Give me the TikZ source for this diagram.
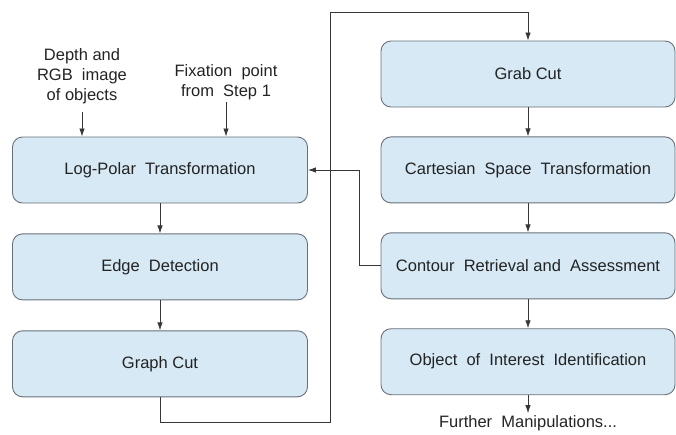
\documentclass[tikz,border=0pt]{standalone}
\usepackage{fontspec}
\setmainfont{Liberation Sans}
\usetikzlibrary{positioning,arrows.meta}
\definecolor{boxfill}{RGB}{214,233,244}
\definecolor{boxline}{RGB}{105,112,122}
\definecolor{wire}{RGB}{55,55,55}
\definecolor{ink}{RGB}{35,35,35}
\tikzset{
  stepbox/.style={draw=boxline, line width=0.9pt, fill=boxfill, rounded corners=10pt,
    minimum width=295pt, minimum height=66pt, text=ink, font=\fontsize{16.5}{20}\selectfont},
  note/.style={align=center, inner sep=2pt, text=ink, font=\fontsize{16.5}{20}\selectfont},
  wired/.style={draw=wire, line width=0.8pt}
}
\begin{document}
\begin{tikzpicture}[x=1pt, y=-1pt, node distance=30pt, >={Latex[length=8pt,width=5.5pt]}]
        \useasboundingbox (0,0) rectangle (676,434);
        % left column
        \node[stepbox] (logpolar) at (160,170) {Log-Polar\ \ Transformation};
        \node[stepbox, below=of logpolar] (edge) {Edge\ \ Detection};
        \node[stepbox, below=of edge] (graphcut) {Graph Cut};

        % right column
        \node[stepbox, minimum width=294pt] (grabcut) at (528,74) {Grab Cut};
        \node[stepbox, minimum width=294pt, below=29pt of grabcut] (cartesian) {Cartesian\ \ Space\ \ Transformation};
        \node[stepbox, minimum width=294pt, below=29pt of cartesian] (contour) {Contour\ \ Retrieval\ and\ \ Assessment};
        \node[stepbox, minimum width=294pt, below=29pt of contour] (object) {Object\ \ of\ \ Interest\ \ Identification};
        \node[note, below=18pt of object] (further) {Further\ \ Manipulations...};

        % inputs
        \node[note, anchor=south, inner ysep=8pt] (depth) at (82,112) {Depth and\\RGB\ \ image\\of objects};
        \node[note, anchor=south] (fixation) at (226,102) {Fixation\ \ point\\from\ \ Step 1};

        % corner points of the long connectors
        \coordinate (loopbot) at (330,422);
        \coordinate (looptop) at (330,12);
        \coordinate (back) at (359,0);

        % connectors
        \draw[wired, ->] (depth) -- (depth |- logpolar.north);
        \draw[wired, ->] (fixation) -- (fixation |- logpolar.north);
        \draw[wired, ->] (logpolar) -- (edge);
        \draw[wired, ->] (edge) -- (graphcut);
        \draw[wired, ->] (graphcut.south) |- (loopbot) -- (looptop) -| (grabcut.north);
        \draw[wired, ->] (grabcut) -- (cartesian);
        \draw[wired, ->] (cartesian) -- (contour);
        \draw[wired, ->] (contour) -- (object);
        \draw[wired, ->] (object) -- (further);
        \draw[wired, ->] (contour.west) -- (contour.west -| back) |- (logpolar.east);
    \end{tikzpicture}
\end{document}
